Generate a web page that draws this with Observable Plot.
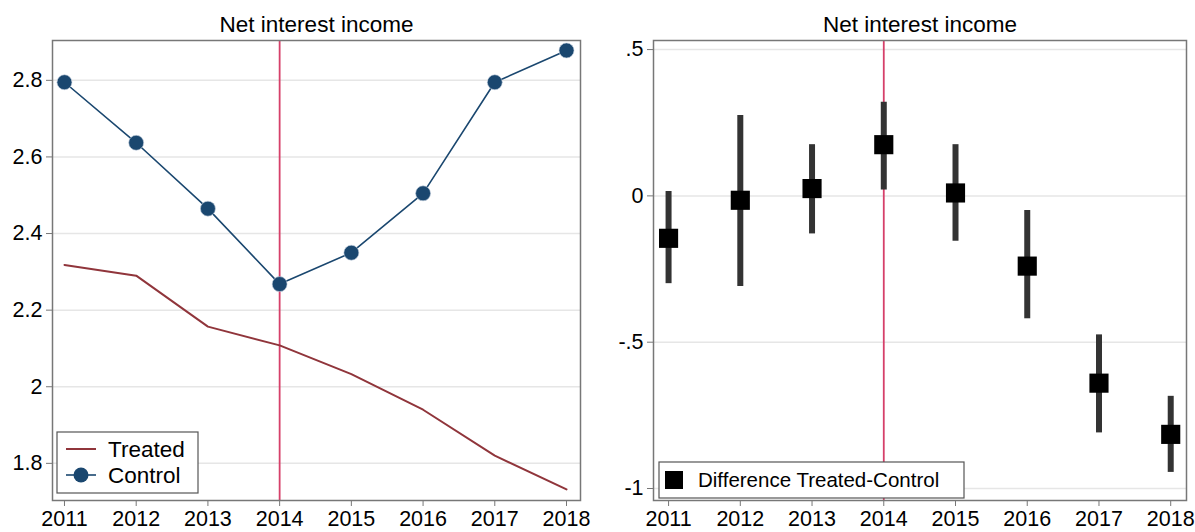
<!DOCTYPE html>
<html>
<head>
<meta charset="utf-8">
<script src="https://cdn.jsdelivr.net/npm/d3@7"></script>
<script src="https://cdn.jsdelivr.net/npm/@observablehq/plot@0.6"></script>
<style>
  html, body { margin: 0; padding: 0; background: #fff; }
  #wrap { position: relative; width: 1195px; height: 532px; overflow: hidden; font-family: "Liberation Sans", Arial, sans-serif; }
  #wrap svg { position: absolute; top: 0; }
</style>
</head>
<body>
<div id="wrap"></div>
<script>
const years = [2011, 2012, 2013, 2014, 2015, 2016, 2017, 2018];
const treated = [2.318, 2.290, 2.157, 2.108, 2.033, 1.940, 1.820, 1.732];
const control = [2.795, 2.637, 2.465, 2.268, 2.350, 2.505, 2.795, 2.878];
const diffPoint = [-0.145, -0.015, 0.025, 0.175, 0.010, -0.240, -0.640, -0.815];
const diffLow = [-0.300, -0.310, -0.130, 0.020, -0.155, -0.420, -0.810, -0.945];
const diffHigh = [0.015, 0.275, 0.175, 0.320, 0.175, -0.050, -0.475, -0.685];
const eventYear = [2014];
const leftTicks = [1.8, 2, 2.2, 2.4, 2.6, 2.8];
const rightTicks = [0.5, 0, -0.5, -1];
const panelTitle = "Net interest income";
const legendLeft = ["Treated", "Control"];
const legendRight = ["Difference Treated-Control"];

const levels = years.map((y, i) => ({year: y, treated: treated[i], control: control[i]}));
const diffs = years.map((y, i) => ({year: y, b: diffPoint[i], lo: diffLow[i], hi: diffHigh[i]}));

const FONT = "Liberation Sans, Arial, sans-serif";
const TICKFS = 21.5;
const TITLEFS = 22.5;
const RED = "#d6406a";
const NAVY = "#1a476f";
const MAROON = "#90353b";
const fmtRight = d => d === 0 ? "0" : (d < 0 ? "-" : "") + String(Math.abs(d)).replace(/^0\./, ".");

const common = {
  height: 532,
  marginTop: 40,
  marginBottom: 32,
  style: {fontSize: TICKFS + "px", fontFamily: FONT, color: "black", background: "transparent", overflow: "visible"}
};

const left = Plot.plot({
  ...common,
  width: 597,
  marginLeft: 52,
  marginRight: 17,
  x: {domain: [2010.833, 2018.195]},
  y: {domain: [1.703, 2.904]},
  marks: [
    Plot.gridY(leftTicks, {stroke: "#e6e6e6", strokeOpacity: 1, strokeWidth: 1.5}),
    Plot.axisY(leftTicks, {tickSize: 6, tickPadding: 4, stroke: "#777", fill: "black", tickFormat: d => String(d), label: null, fontSize: TICKFS}),
    Plot.axisX(years, {tickSize: 6, tickPadding: 4, stroke: "#777", fill: "black", tickFormat: d => String(d), label: null, fontSize: TICKFS}),
    Plot.ruleX(eventYear, {stroke: RED, strokeWidth: 1.8}),
    Plot.line(levels, {x: "year", y: "treated", stroke: MAROON, strokeWidth: 2}),
    Plot.line(levels, {x: "year", y: "control", stroke: NAVY, strokeWidth: 1.6}),
    Plot.dot(levels, {x: "year", y: "control", r: 7.5, fill: NAVY, stroke: "#c9d4e0", strokeWidth: 0.6}),
    Plot.frame({stroke: "#777", strokeWidth: 1.5}),
    Plot.text([panelTitle], {frameAnchor: "top", lineAnchor: "middle", dy: -16, fontSize: TITLEFS, fill: "black"})
  ]
});
left.style.left = "0px";

const right = Plot.plot({
  ...common,
  width: 598,
  marginLeft: 56,
  marginRight: 9,
  x: {domain: [2010.79, 2018.22]},
  y: {domain: [-1.041, 0.531]},
  marks: [
    Plot.gridY(rightTicks, {stroke: "#e6e6e6", strokeOpacity: 1, strokeWidth: 1.5}),
    Plot.axisY(rightTicks, {tickSize: 6, tickPadding: 4, stroke: "#777", fill: "black", tickFormat: fmtRight, label: null, fontSize: TICKFS}),
    Plot.axisX(years, {tickSize: 6, tickPadding: 4, stroke: "#777", fill: "black", tickFormat: d => String(d), label: null, fontSize: TICKFS}),
    Plot.ruleX(eventYear, {stroke: RED, strokeWidth: 1.8}),
    Plot.ruleX(diffs, {x: "year", y1: "lo", y2: "hi", stroke: "#333", strokeWidth: 6}),
    Plot.dot(diffs, {x: "year", y: "b", symbol: "square", r: 10.8, fill: "black", stroke: "none"}),
    Plot.frame({stroke: "#777", strokeWidth: 1.5}),
    Plot.text([panelTitle], {frameAnchor: "top", lineAnchor: "middle", dy: -16, fontSize: TITLEFS, fill: "black"})
  ]
});
right.style.left = "597px";

const wrap = document.getElementById("wrap");
wrap.appendChild(left);
wrap.appendChild(right);

// Legend, left panel
{
  const g = d3.select(left).append("g").attr("font-family", FONT).attr("font-size", TITLEFS).attr("text-anchor", "start");
  g.append("rect").attr("x", 57).attr("y", 432).attr("width", 141).attr("height", 61)
    .attr("fill", "white").attr("stroke", "#555").attr("stroke-width", 1.2);
  g.append("line").attr("x1", 66).attr("x2", 96).attr("y1", 449).attr("y2", 449)
    .attr("stroke", MAROON).attr("stroke-width", 2);
  g.append("text").attr("x", 108).attr("y", 457).text(legendLeft[0]);
  g.append("line").attr("x1", 66).attr("x2", 96).attr("y1", 475).attr("y2", 475)
    .attr("stroke", NAVY).attr("stroke-width", 1.6);
  g.append("circle").attr("cx", 81).attr("cy", 475).attr("r", 7.5).attr("fill", NAVY);
  g.append("text").attr("x", 108).attr("y", 483).text(legendLeft[1]);
}
// Legend, right panel
{
  const g = d3.select(right).append("g").attr("font-family", FONT).attr("font-size", 20.5).attr("text-anchor", "start");
  g.append("rect").attr("x", 62).attr("y", 462).attr("width", 305).attr("height", 36)
    .attr("fill", "white").attr("stroke", "#555").attr("stroke-width", 1.2);
  g.append("rect").attr("x", 68).attr("y", 471).attr("width", 18).attr("height", 18).attr("fill", "black");
  g.append("text").attr("x", 101).attr("y", 487).text(legendRight[0]);
}
</script>
</body>
</html>
